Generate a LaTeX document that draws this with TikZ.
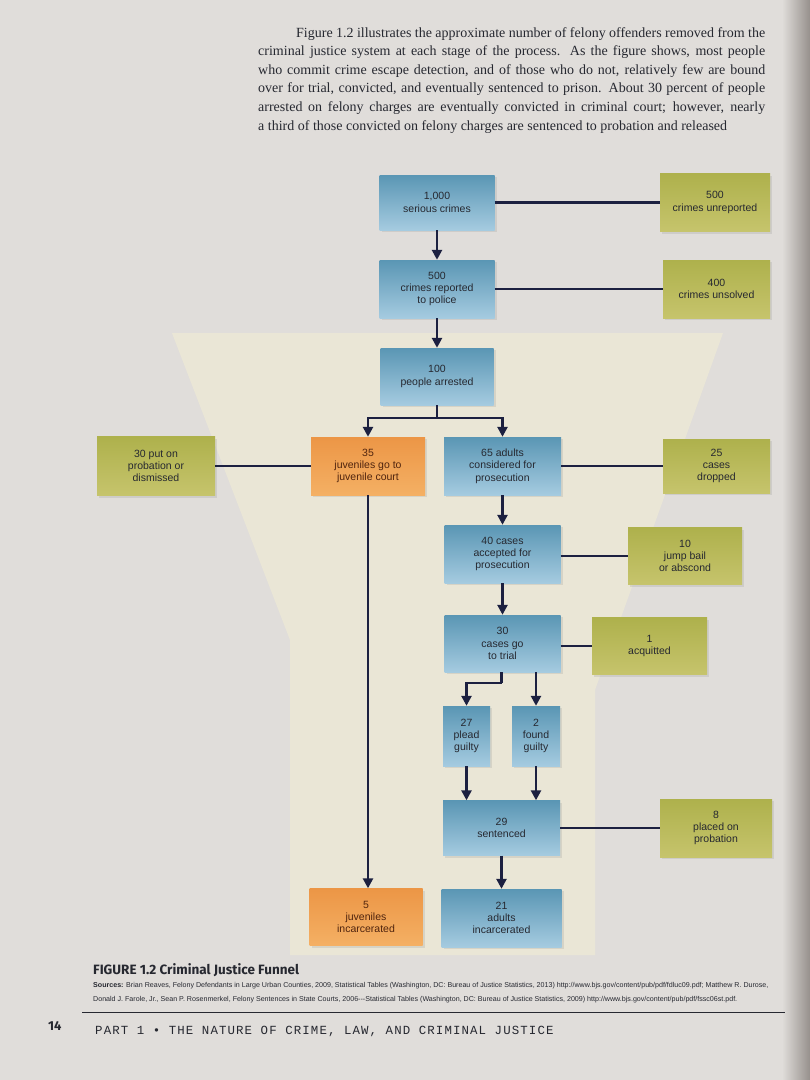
\documentclass[tikz,border=0pt]{standalone}
\usepackage{fontspec}
\setmainfont{Liberation Serif}
\newfontfamily\boxfont{Liberation Sans}
\newfontfamily\capfont{Fira Sans}
\newfontfamily\partfont[LetterSpace=9]{Liberation Mono}
\usetikzlibrary{arrows.meta,shadows}

\definecolor{pagebg}{RGB}{224,221,218}
\definecolor{funnelc}{RGB}{234,230,214}
\definecolor{bluetop}{RGB}{90,150,180}
\definecolor{bluebot}{RGB}{165,203,224}
\definecolor{orgtop}{RGB}{236,150,70}
\definecolor{orgbot}{RGB}{244,176,100}
\definecolor{grntop}{RGB}{174,177,76}
\definecolor{grnbot}{RGB}{198,196,108}
\definecolor{linec}{RGB}{28,32,64}
\definecolor{inkc}{RGB}{38,40,48}
\definecolor{orgink}{RGB}{80,36,14}
\definecolor{edgec}{RGB}{150,144,140}

\begin{document}
\begin{tikzpicture}[x=1pt,y=-1pt,
  boxbase/.style={rectangle, inner sep=0pt, align=center,
    font=\boxfont\fontsize{10.5}{12.3}\selectfont, text=inkc,
    drop shadow={opacity=0.18, shadow xshift=2pt, shadow yshift=-2pt}},
  bluebox/.style={boxbase, top color=bluetop, bottom color=bluebot},
  orgbox/.style={boxbase, top color=orgtop, bottom color=orgbot, text=orgink},
  grnbox/.style={boxbase, top color=grntop, bottom color=grnbot},
  conn/.style={draw=linec, line width=2.5pt},
  arr/.style={conn, -{Triangle[width=10pt,length=10pt]}}
]
\useasboundingbox (0,0) rectangle (810,1080);
\fill[pagebg] (0,0) rectangle (810,1080);
\shade[left color=pagebg, right color=edgec] (782,0) rectangle (810,1080);

% funnel
\fill[funnelc] (172,333) -- (723,333) -- (595,690) -- (595,955) -- (290,955) -- (290,640) -- cycle;

% header paragraph
\node[anchor=north west, text width=507pt, align=justify, inner sep=0pt,
      font=\fontsize{14}{18.6}\selectfont, text=inkc] (para) at (258,27)
{\parfillskip=0pt \hspace*{38pt}Figure 1.2 illustrates the approximate number of felony offenders removed from the\linebreak
criminal justice system at each stage of the process. As the figure shows, most people\linebreak
who commit crime escape detection, and of those who do not, relatively few are bound\linebreak
over for trial, convicted, and eventually sentenced to prison. About 30 percent of people\linebreak
arrested on felony charges are eventually convicted in criminal court; however, nearly\linebreak
a third of those convicted on felony charges are sentenced to probation and released};

% main column
\node[bluebox, minimum width=115pt, minimum height=55pt] (b1) at (437,202.5) {1,000\\serious crimes};
\node[bluebox, minimum width=115pt, minimum height=58pt] (b2) at (437,289) {500\\crimes reported\\to police};
\node[bluebox, minimum width=113pt, minimum height=57pt] (b3) at (437,376.5) {100\\people arrested};
\node[orgbox, minimum width=114pt, minimum height=58pt] (o1) at (368,466) {35\\juveniles go to\\juvenile court};
\node[bluebox, minimum width=117pt, minimum height=58pt] (b4) at (502.5,466) {65 adults\\considered for\\prosecution};
\node[grnbox, minimum width=118pt, minimum height=59pt] (gl) at (156,466) {30 put on\\probation or\\dismissed};
\node[bluebox, minimum width=116pt, minimum height=58pt] (b5) at (502.5,554) {40 cases\\accepted for\\prosecution};
\node[bluebox, minimum width=116pt, minimum height=57pt] (b6) at (502.5,643.5) {30\\cases go\\to trial};
\node[bluebox, minimum width=47pt, minimum height=60pt] (b7) at (466.5,736) {27\\plead\\guilty};
\node[bluebox, minimum width=48pt, minimum height=60pt] (b8) at (536,736) {2\\found\\guilty};
\node[bluebox, minimum width=117pt, minimum height=55pt] (b9) at (501.5,828) {29\\sentenced};
\node[orgbox, minimum width=113pt, minimum height=57pt] (o2) at (366,917) {5\\juveniles\\incarcerated};
\node[bluebox, minimum width=120pt, minimum height=58pt] (b10) at (501.5,918) {21\\adults\\incarcerated};

% right column
\node[grnbox, minimum width=110pt, minimum height=58pt] (g1) at (715,202.5) {500\\crimes unreported};
\node[grnbox, minimum width=107pt, minimum height=58pt] (g2) at (716.5,289) {400\\crimes unsolved};
\node[grnbox, minimum width=107pt, minimum height=54pt] (g3) at (716.5,466) {25\\cases\\dropped};
\node[grnbox, minimum width=114pt, minimum height=57pt] (g4) at (685,556) {10\\jump bail\\or abscond};
\node[grnbox, minimum width=115pt, minimum height=57pt] (g5) at (649.5,646) {1\\acquitted};
\node[grnbox, minimum width=112pt, minimum height=58pt] (g6) at (716,828) {8\\placed on\\probation};

% horizontal connectors
\draw[conn] (b1.east) -- (g1.west);
\draw[conn] (b2.east) -- (g2.west);
\draw[conn] (b4.east) -- (g3.west);
\draw[conn] (o1.west) -- (gl.east);
\draw[conn] ([yshift=-2pt]b5.east) -- ([yshift=-2pt]b5.east -| g4.west);
\draw[conn] ([yshift=-2.5pt]b6.east) -- ([yshift=-2.5pt]b6.east -| g5.west);
\draw[conn] (b9.east) -- (g6.west);

% vertical arrows
\draw[arr] (b1.south) -- (b2.north);
\draw[arr] (b2.south) -- (b3.north);
\coordinate (sp) at (437,418);
\draw[conn] (b3.south) -- (sp);
\draw[arr] (sp) -| (o1.north);
\draw[arr] (sp) -| (b4.north);
\draw[arr] (b4.south) -- (b5.north);
\draw[arr] (b5.south) -- (b6.north);
\coordinate (tp) at (501.5,683);
\draw[conn] (b6.south -| tp) -- (tp);
\draw[arr] (tp) -| (b7.north);
\draw[arr] (b6.south -| b8.north) -- (b8.north);
\draw[arr] (b7.south) -- (b7.south |- b9.north);
\draw[arr] (b8.south) -- (b8.south |- b9.north);
\draw[arr] (b9.south) -- (b9.south |- b10.north);
\draw[arr] (o1.south) -- (o1.south |- o2.north);

% caption
\node[anchor=west, inner sep=0pt, font=\capfont\bfseries\fontsize{13.5}{15}\selectfont, text=inkc] (cap) at (93,970) {FIGURE 1.2 Criminal Justice Funnel};
\node[anchor=west, inner sep=0pt, font=\boxfont\fontsize{7.1}{8}\selectfont, text=inkc] (src1) at (93,986)
{\textbf{Sources:} Brian Reaves, Felony Defendants in Large Urban Counties, 2009, Statistical Tables (Washington, DC: Bureau of Justice Statistics, 2013) http://www.bjs.gov/content/pub/pdf/fdluc09.pdf; Matthew R. Durose,};
\node[anchor=west, inner sep=0pt, font=\boxfont\fontsize{7.1}{8}\selectfont, text=inkc] (src2) at (93,1000)
{Donald J. Farole, Jr., Sean P. Rosenmerkel, Felony Sentences in State Courts, 2006---Statistical Tables (Washington, DC: Bureau of Justice Statistics, 2009) http://www.bjs.gov/content/pub/pdf/fssc06st.pdf.};
\draw[line width=0.9pt, draw=inkc] (82,1012) -- (785,1012);
\node[anchor=west, inner sep=0pt, font=\capfont\bfseries\fontsize{13}{15}\selectfont, text=inkc] (pg) at (48,1026) {14};
\node[anchor=west, inner sep=0pt, font=\partfont\fontsize{12.4}{14}\selectfont, text=inkc] (part) at (95,1031) {PART 1 \textbullet\ THE NATURE OF CRIME, LAW, AND CRIMINAL JUSTICE};
\end{tikzpicture}
\end{document}
